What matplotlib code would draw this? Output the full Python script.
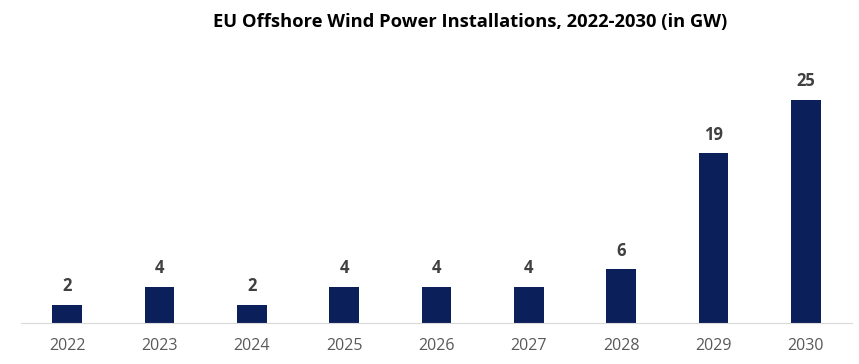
import matplotlib.pyplot as plt

plt.rcParams['font.family'] = ['Open Sans', 'DejaVu Sans']

years = ["2022", "2023", "2024", "2025", "2026", "2027", "2028", "2029", "2030"]
installations = [2, 4, 2, 4, 4, 4, 6, 19, 25]

fig = plt.figure(figsize=(8.59, 3.64), dpi=100)
ax = fig.add_axes([21 / 859, 1 - 323 / 364, 831 / 859, 250 / 364])

x = range(len(years))
bars = ax.bar(x, installations, width=0.32, color="#0b1f5b")

for b, v in zip(bars, installations):
    ax.text(b.get_x() + b.get_width() / 2, v + 1.1, str(v), ha="center", va="bottom",
            fontsize=12, fontweight="bold", color="#404040")

ax.set_xlim(-0.5, len(years) - 0.5)
ax.set_ylim(0, 28)
ax.set_xticks(list(x))
ax.set_xticklabels(years, fontsize=11.5, color="#595959")
ax.tick_params(axis="x", length=0, pad=11)
ax.set_yticks([])
for s in ["top", "right", "left"]:
    ax.spines[s].set_visible(False)
ax.spines["bottom"].set_color("#d9d9d9")

fig.text(0.547, 0.94, "EU Offshore Wind Power Installations, 2022-2030 (in GW)",
         ha="center", va="center", fontsize=13.2, fontweight="bold", color="black")

plt.savefig("out.png")
